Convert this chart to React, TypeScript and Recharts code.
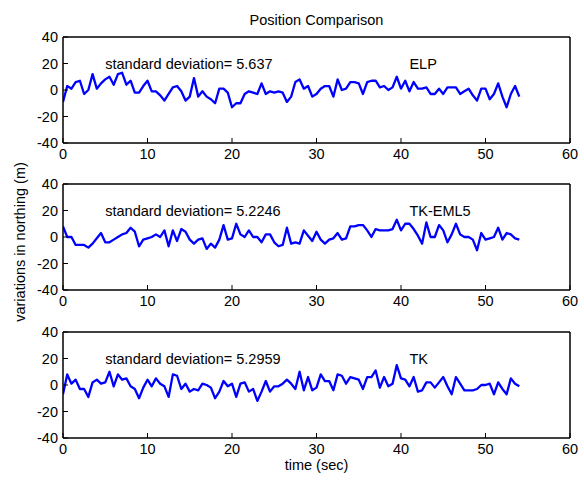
import React from 'react';
import { LineChart, Line, XAxis, YAxis, ReferenceDot } from 'recharts';

// Sample times (s), 2 Hz
const timeSec = [
  0, 0.5, 1, 1.5, 2, 2.5, 3, 3.5, 4, 4.5,
  5, 5.5, 6, 6.5, 7, 7.5, 8, 8.5, 9, 9.5,
  10, 10.5, 11, 11.5, 12, 12.5, 13, 13.5, 14, 14.5,
  15, 15.5, 16, 16.5, 17, 17.5, 18, 18.5, 19, 19.5,
  20, 20.5, 21, 21.5, 22, 22.5, 23, 23.5, 24, 24.5,
  25, 25.5, 26, 26.5, 27, 27.5, 28, 28.5, 29, 29.5,
  30, 30.5, 31, 31.5, 32, 32.5, 33, 33.5, 34, 34.5,
  35, 35.5, 36, 36.5, 37, 37.5, 38, 38.5, 39, 39.5,
  40, 40.5, 41, 41.5, 42, 42.5, 43, 43.5, 44, 44.5,
  45, 45.5, 46, 46.5, 47, 47.5, 48, 48.5, 49, 49.5,
  50, 50.5, 51, 51.5, 52, 52.5, 53, 53.5, 54,
];

// Northing variations (m)
const elpNorthing = [
  -9, 3, 1, 6, 7, -3, 0, 12, 1, 5,
  8, 10, 4, 12, 13, 4, 7, -2, -2, 3,
  7, -1, -1, -4, -8, -3, 2, 3, -1, -8,
  -5, 9, -5, -1, -5, -7, -10, 1, 1, -2,
  -13, -10, -10, -3, -1, -2, -3, 5, -3, -1,
  -2, -1, -2, -9, -5, 6, 8, 1, 3, -5,
  -3, 1, 3, 3, -5, 8, 0, 1, 6, 6,
  5, -3, 6, 7, 7, 2, 3, 0, 2, 10,
  1, 7, -1, 6, 1, 1, 2, -3, -3, 1,
  -3, 2, 2, 2, -3, -1, 1, -4, -8, 1,
  1, -7, -3, 5, -5, -13, -3, 3, -5,
];

const tkEml5Northing = [
  8, 0, 0, -6, -6, -6, -8, -5, -1, 3,
  -4, -4, -2, 0, 2, 3, 7, 4, -7, -2,
  -1, 0, 2, 0, 5, -7, 5, -3, 6, 4,
  -2, -5, -2, -1, -9, -5, -8, -2, 9, -2,
  -1, 10, 2, 0, 5, 0, 0, -4, 2, 2,
  -4, -7, -6, 7, -5, -4, -5, 5, 1, -3,
  4, -2, -5, -2, -1, 3, -2, -1, 8, 8,
  9, 9, 5, 0, 6, 5, 5, 5, 6, 13,
  5, 10, 10, 6, 1, -5, 11, 0, 0, 9,
  5, -4, 2, 10, 2, 0, 0, -2, -10, 3,
  -2, -1, 0, 7, -2, 3, 2, -1, -2,
];

const tkNorthing = [
  -7, 8, 1, 4, -3, -3, -9, 2, 4, 1,
  2, 10, -1, 8, 4, 5, -1, -3, -10, -2,
  4, -1, 5, 1, -1, -9, 8, 7, -3, 1,
  -5, -3, -4, 1, 0, -2, -10, -5, 3, -1,
  1, -9, 1, 2, -5, -3, -12, -5, 3, -5,
  -1, -1, 1, 4, 1, -3, 10, -4, 6, -4,
  -2, 8, 3, 3, -4, 8, 7, 1, 6, 5,
  4, -3, 6, 6, 11, -2, 6, -1, 1, 15,
  5, 4, -1, 6, -5, -4, 2, 2, -2, 2,
  6, -1, -7, 6, 1, -4, -4, -4, -3, 0,
  0, 1, -7, 2, -3, -7, 5, 1, -1,
];

const panelNames = ['ELP', 'TK-EML5', 'TK'];
const panelStdDevs = ['5.637', '5.2246', '5.2959'];
const panelSeries = [elpNorthing, tkEml5Northing, tkNorthing];

const xTicks = [0, 10, 20, 30, 40, 50, 60];
const yTicks = [-40, -20, 0, 20, 40];

const FONT = '"Liberation Sans", Arial, Helvetica, sans-serif';
const FONT_SIZE = 14.5;
const WIDTH = 584;
const HEIGHT = 481;
const PLOT_LEFT = 63;
const PLOT_RIGHT = 570;
const PLOT_H = 106;
const PANEL_TOPS = [37, 184, 332];
const M_TOP = 20;
const M_BOTTOM = 28;
const AX = 1; // thickness reserved by each axis band

const tickStyle = { fill: '#000', fontSize: FONT_SIZE, fontFamily: FONT };
const axisLineStyle = { stroke: '#000', strokeWidth: 1.5 };
const tickLineStyle = { stroke: '#000', strokeWidth: 1 };

function Panel({ values, name, sd, top }: { values: number[]; name: string; sd: string; top: number }) {
  const data = timeSec.map((t, i) => ({ t, v: values[i] }));
  return (
    <div style={{ position: 'absolute', left: 0, top: top - M_TOP }}>
      <LineChart
        width={WIDTH}
        height={PLOT_H + M_TOP + M_BOTTOM}
        data={data}
        margin={{
          top: M_TOP - AX,
          right: WIDTH - PLOT_RIGHT - AX,
          bottom: M_BOTTOM - AX,
          left: PLOT_LEFT - AX,
        }}
      >
        <XAxis
          xAxisId="b"
          dataKey="t"
          type="number"
          domain={[0, 60]}
          ticks={xTicks}
          interval={0}
          allowDataOverflow
          orientation="bottom"
          height={AX}
          tickSize={-5}
          tickMargin={11}
          axisLine={axisLineStyle}
          tickLine={tickLineStyle}
          tick={tickStyle}
        />
        <XAxis
          xAxisId="t"
          dataKey="t"
          type="number"
          domain={[0, 60]}
          ticks={xTicks}
          interval={0}
          allowDataOverflow
          orientation="top"
          height={AX}
          tickSize={-5}
          axisLine={axisLineStyle}
          tickLine={tickLineStyle}
          tick={false}
        />
        <YAxis
          yAxisId="l"
          type="number"
          domain={[-40, 40]}
          ticks={yTicks}
          interval={0}
          allowDataOverflow
          width={AX}
          tickSize={-5}
          tickMargin={10}
          axisLine={axisLineStyle}
          tickLine={tickLineStyle}
          tick={tickStyle}
        />
        <YAxis
          yAxisId="r"
          orientation="right"
          type="number"
          domain={[-40, 40]}
          ticks={yTicks}
          interval={0}
          allowDataOverflow
          width={AX}
          tickSize={-5}
          axisLine={axisLineStyle}
          tickLine={tickLineStyle}
          tick={false}
        />
        <Line
          xAxisId="b"
          yAxisId="l"
          type="linear"
          dataKey="v"
          stroke="#0000ff"
          strokeWidth={2.3}
          strokeLinejoin="round"
          dot={false}
          isAnimationActive={false}
        />
        <ReferenceDot
          xAxisId="b"
          yAxisId="l"
          x={5}
          y={20}
          r={0}
          fill="none"
          stroke="none"
          label={{ value: `standard deviation= ${sd}`, position: 'right', offset: 0, fill: '#000', fontSize: FONT_SIZE, fontFamily: FONT }}
        />
        <ReferenceDot
          xAxisId="b"
          yAxisId="l"
          x={41}
          y={20}
          r={0}
          fill="none"
          stroke="none"
          label={{ value: name, position: 'right', offset: 0, fill: '#000', fontSize: FONT_SIZE, fontFamily: FONT }}
        />
      </LineChart>
    </div>
  );
}

export default function App() {
  const cx = (PLOT_LEFT + PLOT_RIGHT) / 2;
  return (
    <div style={{ position: 'absolute', left: 0, top: 0, width: WIDTH, height: HEIGHT, background: '#fff' }}>
      {panelSeries.map((values, k) => (
        <Panel key={panelNames[k]} values={values} name={panelNames[k]} sd={panelStdDevs[k]} top={PANEL_TOPS[k]} />
      ))}
      <svg width={WIDTH} height={HEIGHT} style={{ position: 'absolute', left: 0, top: 0, pointerEvents: 'none' }}>
        <text x={cx} y={25} textAnchor="middle" fontFamily={FONT} fontSize={FONT_SIZE} fill="#000">
          Position Comparison
        </text>
        <text x={cx} y={470} textAnchor="middle" fontFamily={FONT} fontSize={FONT_SIZE} fill="#000">
          time (sec)
        </text>
        <text
          transform="translate(25,242) rotate(-90)"
          textAnchor="middle"
          fontFamily={FONT}
          fontSize={FONT_SIZE}
          fill="#000"
        >
          variations in northing (m)
        </text>
      </svg>
    </div>
  );
}
